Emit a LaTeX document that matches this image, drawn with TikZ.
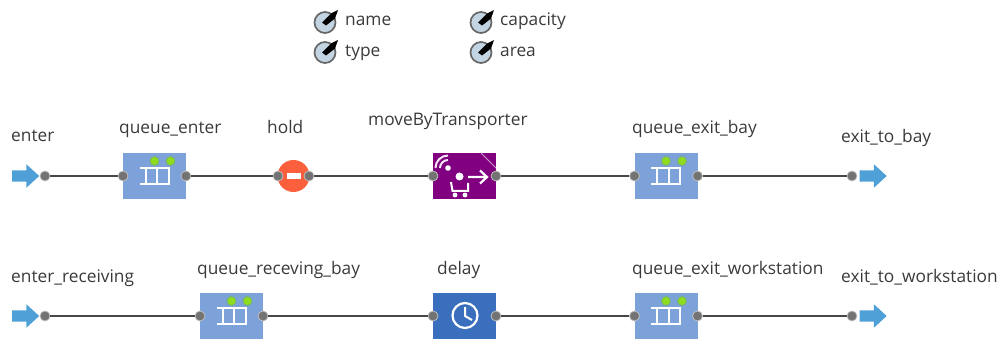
\documentclass[tikz,border=0pt]{standalone}
\usepackage{fontspec}
\setmainfont{Open Sans}
\usetikzlibrary{shapes.arrows}
\definecolor{queueblue}{HTML}{7DA2DA}
\definecolor{delayblue}{HTML}{3A6FBE}
\definecolor{movepurple}{HTML}{800080}
\definecolor{holdred}{HTML}{FB5F3C}
\definecolor{arrowblue}{HTML}{4FA0D6}
\definecolor{ledgreen}{HTML}{8FDC1E}
\definecolor{textgrey}{HTML}{3A3A3A}
\definecolor{dialblue}{HTML}{C3D5E3}
\tikzset{
  lbl/.style={font=\fontsize{17.3}{20}\selectfont,text=textgrey,inner sep=0pt},
  port/.style={circle,fill=black!55,draw=black!25,line width=.8pt,inner sep=0pt,minimum size=10pt},
  link/.style={draw=black!72,line width=1.4pt},
  block/.style={rectangle,inner sep=0pt,minimum width=63pt,minimum height=46pt},
  iconline/.style={draw=white,line width=2pt},
  flowarrow/.style={single arrow,anchor=tip,fill=arrowblue,inner xsep=0pt,inner ysep=5.5pt,minimum height=27pt,single arrow head extend=6pt,single arrow tip angle=85},
  pics/queueblock/.style={code={
    \node[block,fill=queueblue] (-box) at (0,0) {};
    \node[circle,fill=ledgreen,draw=green!45!black!55,line width=.8pt,inner sep=0pt,minimum size=9pt] (-ledA) at (0,-15) {};
    \node[circle,fill=ledgreen,draw=green!45!black!55,line width=.8pt,inner sep=0pt,minimum size=9pt] (-ledB) at (16,-15) {};
    \draw[iconline] (-15,-8) -- (14,-8) -- (14,8) -- (-15,8);
    \draw[iconline] (-9,-8) -- (-9,8);
    \draw[iconline] (2.5,-8) -- (2.5,8);
    \node[port] (-in) at (-31.5,0) {};
    \node[port] (-out) at (31.5,0) {};
  }},
  pics/dial/.style={code={
    \node[circle,fill=dialblue,draw=black!60,line width=1.7pt,inner sep=0pt,minimum size=21pt] (-face) at (0,0) {};
    \fill[black] (-3,0) -- (6,-9) -- (13,-12.5) -- (10,-4) -- (1,3) -- cycle;
  }}
}
\begin{document}
\begin{tikzpicture}[x=1pt,y=-1pt]
  \useasboundingbox (0,0) rectangle (1001,339);
  % parameters
  \pic (dname) at (325,22.5) {dial};
  \pic (dtype) at (325,52.5) {dial};
  \pic (dcapacity) at (481,22.5) {dial};
  \pic (darea) at (481,52.5) {dial};
  \node[lbl,anchor=base west] (pname) at (345,25.5) {name};
  \node[lbl,anchor=base west] (ptype) at (345,56.5) {type};
  \node[lbl,anchor=base west] (pcapacity) at (500,25.5) {capacity};
  \node[lbl,anchor=base west] (parea) at (500,56.5) {area};
  % first row
  \node[flowarrow] (enterarrow) at (39.5,176) {};
  \node[port] (enter) at (45,176) {};
  \pic (qenter) at (154.5,176) {queueblock};
  \node[circle,fill=holdred,inner sep=0pt,minimum size=32pt] (holdbody) at (293.5,176) {};
  \fill[white] (287,173) rectangle (301,179);
  \node[port] (holdin) at (278,176) {};
  \node[port] (holdout) at (309,176) {};
  \node[block,fill=movepurple] (move) at (464.5,176) {};
  \draw[white!60!movepurple,line width=.8pt] (481,153) -- (496,168);
  \fill[white] (448,168) circle (2.8pt);
  \draw[white!90!movepurple,line width=2pt] (448,168) ++(180:8pt) arc[start angle=180,end angle=90,radius=8pt];
  \draw[white!90!movepurple,line width=2pt] (448,168) ++(180:12.5pt) arc[start angle=180,end angle=90,radius=12.5pt];
  \fill[white] (459.5,176.5) circle (4pt);
  \draw[white,line width=2pt] (451,182) -- (452.5,191) -- (468,191) -- (468,183);
  \fill[white] (455,195) circle (2.4pt) (465,195) circle (2.4pt);
  \draw[white,line width=2.2pt] (468,177) -- (486,177) (480,170.5) -- (487,177) -- (480,183.5);
  \node[port] (movein) at (433,176) {};
  \node[port] (moveout) at (496,176) {};
  \pic (qbay) at (666,176) {queueblock};
  \node[port] (exitbay) at (852,176) {};
  \node[flowarrow] (exitbayarrow) at (887,176) {};
  % second row
  \node[flowarrow] (recvarrow) at (39.5,316) {};
  \node[port] (recv) at (45,316) {};
  \pic (qrecv) at (231.5,316) {queueblock};
  \node[block,fill=delayblue] (delay) at (464.5,316) {};
  \draw[white,line width=2.2pt] (465,315.5) circle (12.5pt);
  \draw[white,line width=2pt] (465,307) -- (465,316) -- (472,320);
  \node[port] (delayin) at (433,316) {};
  \node[port] (delayout) at (496,316) {};
  \pic (qwork) at (666,316) {queueblock};
  \node[port] (exitwork) at (852,316) {};
  \node[flowarrow] (exitworkarrow) at (887,316) {};
  % links
  \draw[link] (enter) -- (qenter-in);
  \draw[link] (qenter-out) -- (holdin);
  \draw[link] (holdout) -- (movein);
  \draw[link] (moveout) -- (qbay-in);
  \draw[link] (qbay-out) -- (exitbay);
  \draw[link] (recv) -- (qrecv-in);
  \draw[link] (qrecv-out) -- (delayin);
  \draw[link] (delayout) -- (qwork-in);
  \draw[link] (qwork-out) -- (exitwork);
  % labels
  \node[lbl,anchor=base west] (lenter) at (11,142) {enter};
  \node[lbl,anchor=base west] (lqenter) at (119,134) {queue\_enter};
  \node[lbl,anchor=base west] (lhold) at (267,134) {hold};
  \node[lbl,anchor=base west] (lmove) at (368,126) {moveByTransporter};
  \node[lbl,anchor=base west] (lqbay) at (632,134) {queue\_exit\_bay};
  \node[lbl,anchor=base west] (lexitbay) at (841,143) {exit\_to\_bay};
  \node[lbl,anchor=base west] (lrecv) at (11,282) {enter\_receiving};
  \node[lbl,anchor=base west] (lqrecv) at (197,274) {queue\_receving\_bay};
  \node[lbl,anchor=base west] (ldelay) at (437,274) {delay};
  \node[lbl,anchor=base west] (lqwork) at (632,274) {queue\_exit\_workstation};
  \node[lbl,anchor=base west] (lexitwork) at (841,282) {exit\_to\_workstation};
\end{tikzpicture}
\end{document}
